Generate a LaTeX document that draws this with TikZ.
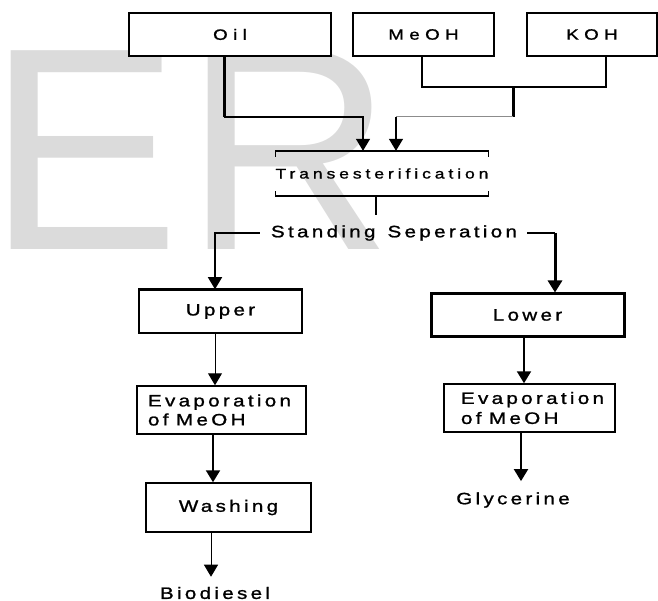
\documentclass[tikz,border=0pt]{standalone}
\usepackage{fontspec}
\setmainfont{Liberation Sans}
\newfontfamily\widefont[FakeStretch=1.25, FakeBold=1.2, LetterSpace=36]{Liberation Sans}
\newfontfamily\spcfont[FakeStretch=1.25, FakeBold=1.2, LetterSpace=20]{Liberation Sans}
\newfontfamily\transfont[FakeStretch=1.25, FakeBold=1.2, LetterSpace=28]{Liberation Sans}
\usetikzlibrary{arrows.meta}
\begin{document}
\begin{tikzpicture}[x=1pt,y=-1pt,
  box/.style={draw, line width=1.5pt, fill=white, inner sep=0pt},
  lbl/.style={inner sep=0pt, font=\spcfont\fontsize{16.5}{20}\selectfont},
  spcf/.style={font=\spcfont\fontsize{16.5}{20}\selectfont},
  topf/.style={font=\widefont\fontsize{15}{18}\selectfont},
  arr/.style={-{Triangle[width=14pt,length=12pt]}, line width=1.5pt},
  wm/.style={inner sep=0pt, text=black!14, font=\fontsize{289}{289}\selectfont, anchor=base}
]
\useasboundingbox (0,0) rectangle (658,601);
% watermark
\node[wm, anchor=base west] (wE) at (0,250) {\hspace*{-13pt}E};
\node[wm] (wR) at (289,250) {R};

% top boxes
\node[box, topf, minimum width=202pt, minimum height=43pt] (oil) at (230,34.5) {Oil};
\node[box, topf, minimum width=141pt, minimum height=43pt] (meoh) at (423.5,34.5) {MeOH};
\node[box, topf, minimum width=130pt, minimum height=43pt] (koh) at (592,34.5) {KOH};

% transesterification
\node[inner sep=0pt, minimum width=168pt, minimum height=45pt, font=\transfont\fontsize{14}{17}\selectfont] (transbox) at (382,173.5) {Transesterification};
\draw[line width=1.5pt] ([yshift=-6pt]transbox.north west) -- (transbox.north west) -- (transbox.north east) -- ([yshift=-6pt]transbox.north east);
\draw[line width=1.5pt] ([yshift=5pt]transbox.south west) -- (transbox.south west) -- (transbox.south east) -- ([yshift=5pt]transbox.south east);

% inputs to transesterification
\coordinate (oilout) at ([xshift=-6pt]oil.south);
\coordinate (j1) at (224,117);
\coordinate (t1) at ([xshift=-19pt]transbox.north);
\draw[line width=3pt] (oilout) -- (j1);
\draw[arr] (j1) -| (t1);
\coordinate (mo) at ([xshift=-1.5pt]meoh.south);
\coordinate (ko) at ([xshift=14pt]koh.south);
\coordinate (j2) at (513,87);
\coordinate (j3) at (513,117);
\coordinate (t2) at ([xshift=14pt]transbox.north);
\draw[line width=2.5pt] (mo) |- (j2) -| (ko);
\draw[line width=3pt] (j2) -- (j3);
\draw[line width=1pt, black!45] (j3) -- (j3 -| t2);
\draw[arr] (j3 -| t2) -- (t2);

% standing separation
\coordinate (tb) at ([xshift=-6pt]transbox.south);
\coordinate (sb) at (376,215);
\node[lbl] (stand) at (394,233) {Standing\hspace{3pt} Seperation};
\draw[line width=1.5pt] (tb) -- (sb);

% second row boxes
\node[box, spcf, minimum width=163pt, minimum height=43pt] (upper) at (220.5,311.5) {Upper};
\draw[line width=3pt] (upper.north west) -- (upper.north east);
\node[box, spcf, line width=3pt, minimum width=193pt, minimum height=42pt] (lower) at (527.5,315) {Lower};

\coordinate (ua) at ([xshift=-5.5pt]upper.north);
\coordinate (la) at ([xshift=27.5pt]lower.north);
\coordinate (c1) at (la |- stand);
\draw[arr] ([xshift=-11pt]stand.west) -| (ua);
\draw[line width=1.5pt] ([xshift=10pt]stand.east) -- (c1);
\draw[arr, line width=3pt] (c1) -- (la);

% evaporation boxes
\node[box, minimum width=169pt, minimum height=48pt, text width=147pt, inner xsep=11pt, align=left,
      font=\spcfont\fontsize{16.5}{19}\selectfont] (evapl) at (221.5,410) {Evaporation\\of\hspace{2pt} MeOH};
\node[box, minimum width=171pt, minimum height=48pt, text width=137pt, inner xsep=17pt, align=left,
      font=\spcfont\fontsize{16.5}{20}\selectfont] (evapr) at (529.5,408) {Evaporation\\of\hspace{2pt} MeOH};

\coordinate (u1) at ([xshift=-5.5pt]upper.south);
\draw[arr, line width=1pt] (u1) -- (u1 |- evapl.north);
\coordinate (l1) at ([xshift=-3.5pt]lower.south);
\draw[arr, line width=2pt] (l1) -- (l1 |- evapr.north);

% washing
\node[box, spcf, minimum width=165pt, minimum height=49pt] (wash) at (228.5,507.5) {Washing};
\coordinate (e1) at ([xshift=-8.5pt]evapl.south);
\draw[arr, line width=2pt] (e1) -- (e1 |- wash.north);

% products
\node[lbl] (bio) at (215,593) {Biodiesel};
\coordinate (w1) at ([xshift=-17.5pt]wash.south);
\draw[arr, line width=1pt, shorten >=10pt] (w1) -- (w1 |- bio.north);
\node[lbl] (gly) at (513,500) {Glycerine};
\coordinate (e2) at ([xshift=-8.5pt]evapr.south);
\draw[arr, line width=2pt, shorten >=11pt] (e2) -- (e2 |- gly.north);
\end{tikzpicture}
\end{document}
